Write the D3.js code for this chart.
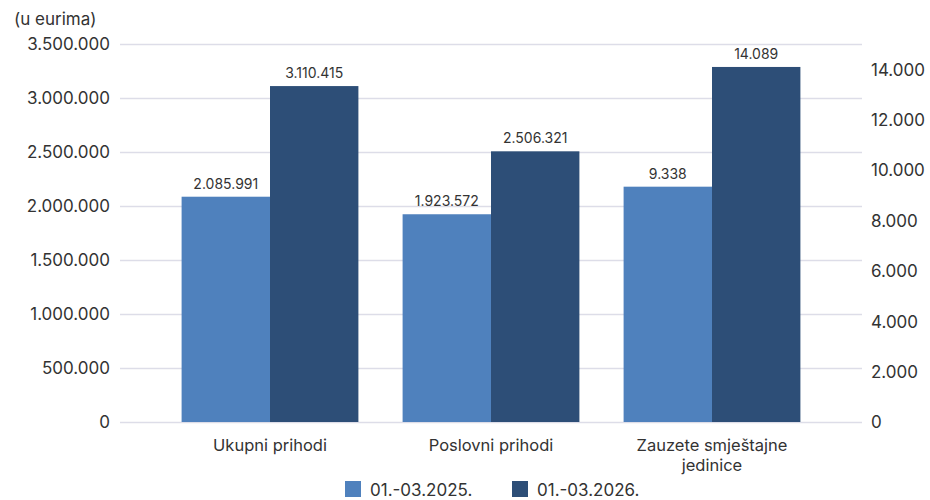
<!DOCTYPE html>
<html>
<head>
<meta charset="utf-8">
<title>Prihodi i zauzete smještajne jedinice</title>
<script src="https://d3js.org/d3.v7.min.js"></script>
<style>
  body { margin: 0; background: #fff; }
  svg text { font-family: Inter, "Open Sans", sans-serif; fill: #333; }
</style>
</head>
<body>
<script>
// data
var categories = ["Ukupni prihodi", "Poslovni prihodi", "Zauzete smještajne jedinice"];
var categoryLines = [["Ukupni prihodi"], ["Poslovni prihodi"], ["Zauzete smještajne", "jedinice"]];
var seriesNames = ["01.-03.2025.", "01.-03.2026."];
var values2025 = [2085991, 1923572, 9338];
var values2026 = [3110415, 2506321, 14089];
var onRightAxis = [false, false, true];
var leftTicks = [0, 500000, 1000000, 1500000, 2000000, 2500000, 3000000, 3500000];
var rightTicks = [0, 2000, 4000, 6000, 8000, 10000, 12000, 14000];
var colors = ["#4f81bd", "#2d4e77"];

var width = 930, height = 500;
var plotLeft = 120, plotRight = 862, plotTop = 44, plotBottom = 422;

var hr = d3.formatLocale({ decimal: ",", thousands: ".", grouping: [3], currency: ["", " €"] });
var fmt = hr.format(",d");

var svg = d3.select("body").append("svg")
  .attr("width", width)
  .attr("height", height);

var yLeft = d3.scaleLinear().domain([0, 3500000]).range([plotBottom, plotTop]);
var yRight = d3.scaleLinear().domain([0, 15000]).range([plotBottom, plotTop]);

var x = d3.scaleBand()
  .domain(categories)
  .range([159.5, 822.5])
  .paddingInner(0.2)
  .paddingOuter(0.1);

var xSub = d3.scaleBand()
  .domain(seriesNames)
  .range([0, x.bandwidth()]);

// gridlines (left axis)
svg.append("g")
  .selectAll("line")
  .data(leftTicks)
  .join("line")
  .attr("x1", plotLeft)
  .attr("x2", plotRight)
  .attr("y1", function(d) { return Math.round(yLeft(d)) + 0.5; })
  .attr("y2", function(d) { return Math.round(yLeft(d)) + 0.5; })
  .attr("stroke", "#dddde8")
  .attr("stroke-width", 1.3);

// left axis
var leftAxis = svg.append("g")
  .attr("transform", "translate(" + 110 + ",0)")
  .call(d3.axisLeft(yLeft).tickValues(leftTicks).tickFormat(fmt).tickSize(0).tickPadding(0));
leftAxis.select(".domain").remove();
leftAxis.selectAll("text").attr("font-size", 17).attr("dy", "0.35em");

// right axis
var rightAxis = svg.append("g")
  .attr("transform", "translate(" + 871 + ",0)")
  .call(d3.axisRight(yRight).tickValues(rightTicks).tickFormat(fmt).tickSize(0).tickPadding(0));
rightAxis.select(".domain").remove();
rightAxis.selectAll("text").attr("font-size", 17).attr("dy", "0.35em");

svg.append("text")
  .attr("x", 14)
  .attr("y", 25)
  .attr("font-size", 17)
  .text("(u eurima)");

// bars
var rows = categories.map(function(c, i) {
  return {
    cat: c,
    right: onRightAxis[i],
    vals: [
      { s: seriesNames[0], v: values2025[i], col: colors[0] },
      { s: seriesNames[1], v: values2026[i], col: colors[1] }
    ]
  };
});

var groups = svg.append("g")
  .selectAll("g")
  .data(rows)
  .join("g")
  .attr("transform", function(d) { return "translate(" + x(d.cat) + ",0)"; });

groups.each(function(row) {
  var y = row.right ? yRight : yLeft;
  var g = d3.select(this);
  g.selectAll("rect")
    .data(row.vals)
    .join("rect")
    .attr("x", function(d) { return xSub(d.s); })
    .attr("width", xSub.bandwidth())
    .attr("y", function(d) { return y(d.v); })
    .attr("height", function(d) { return plotBottom - y(d.v); })
    .attr("fill", function(d) { return d.col; });
  g.selectAll("text.val")
    .data(row.vals)
    .join("text")
    .attr("class", "val")
    .attr("x", function(d) { return xSub(d.s) + xSub.bandwidth() / 2; })
    .attr("y", function(d) { return y(d.v) - 8; })
    .attr("text-anchor", "middle")
    .attr("font-size", 14)
    .text(function(d) { return fmt(d.v); });
});

// category labels (one text per line)
categories.forEach(function(c, i) {
  svg.append("g")
    .selectAll("text")
    .data(categoryLines[i])
    .join("text")
    .attr("text-anchor", "middle")
    .attr("font-size", 16.5)
    .attr("x", x(c) + x.bandwidth() / 2)
    .attr("y", function(l, j) { return 451 + j * 20; })
    .text(function(l) { return l; });
});

// legend
var legendX = [345, 512];
var legend = svg.append("g")
  .selectAll("g")
  .data(seriesNames)
  .join("g")
  .attr("transform", function(d, i) { return "translate(" + legendX[i] + ",481)"; });
legend.append("rect")
  .attr("width", 16)
  .attr("height", 16)
  .attr("fill", function(d, i) { return colors[i]; });
legend.append("text")
  .attr("x", 25)
  .attr("y", 15)
  .attr("font-size", 17)
  .text(function(d) { return d; });
</script>
</body>
</html>
